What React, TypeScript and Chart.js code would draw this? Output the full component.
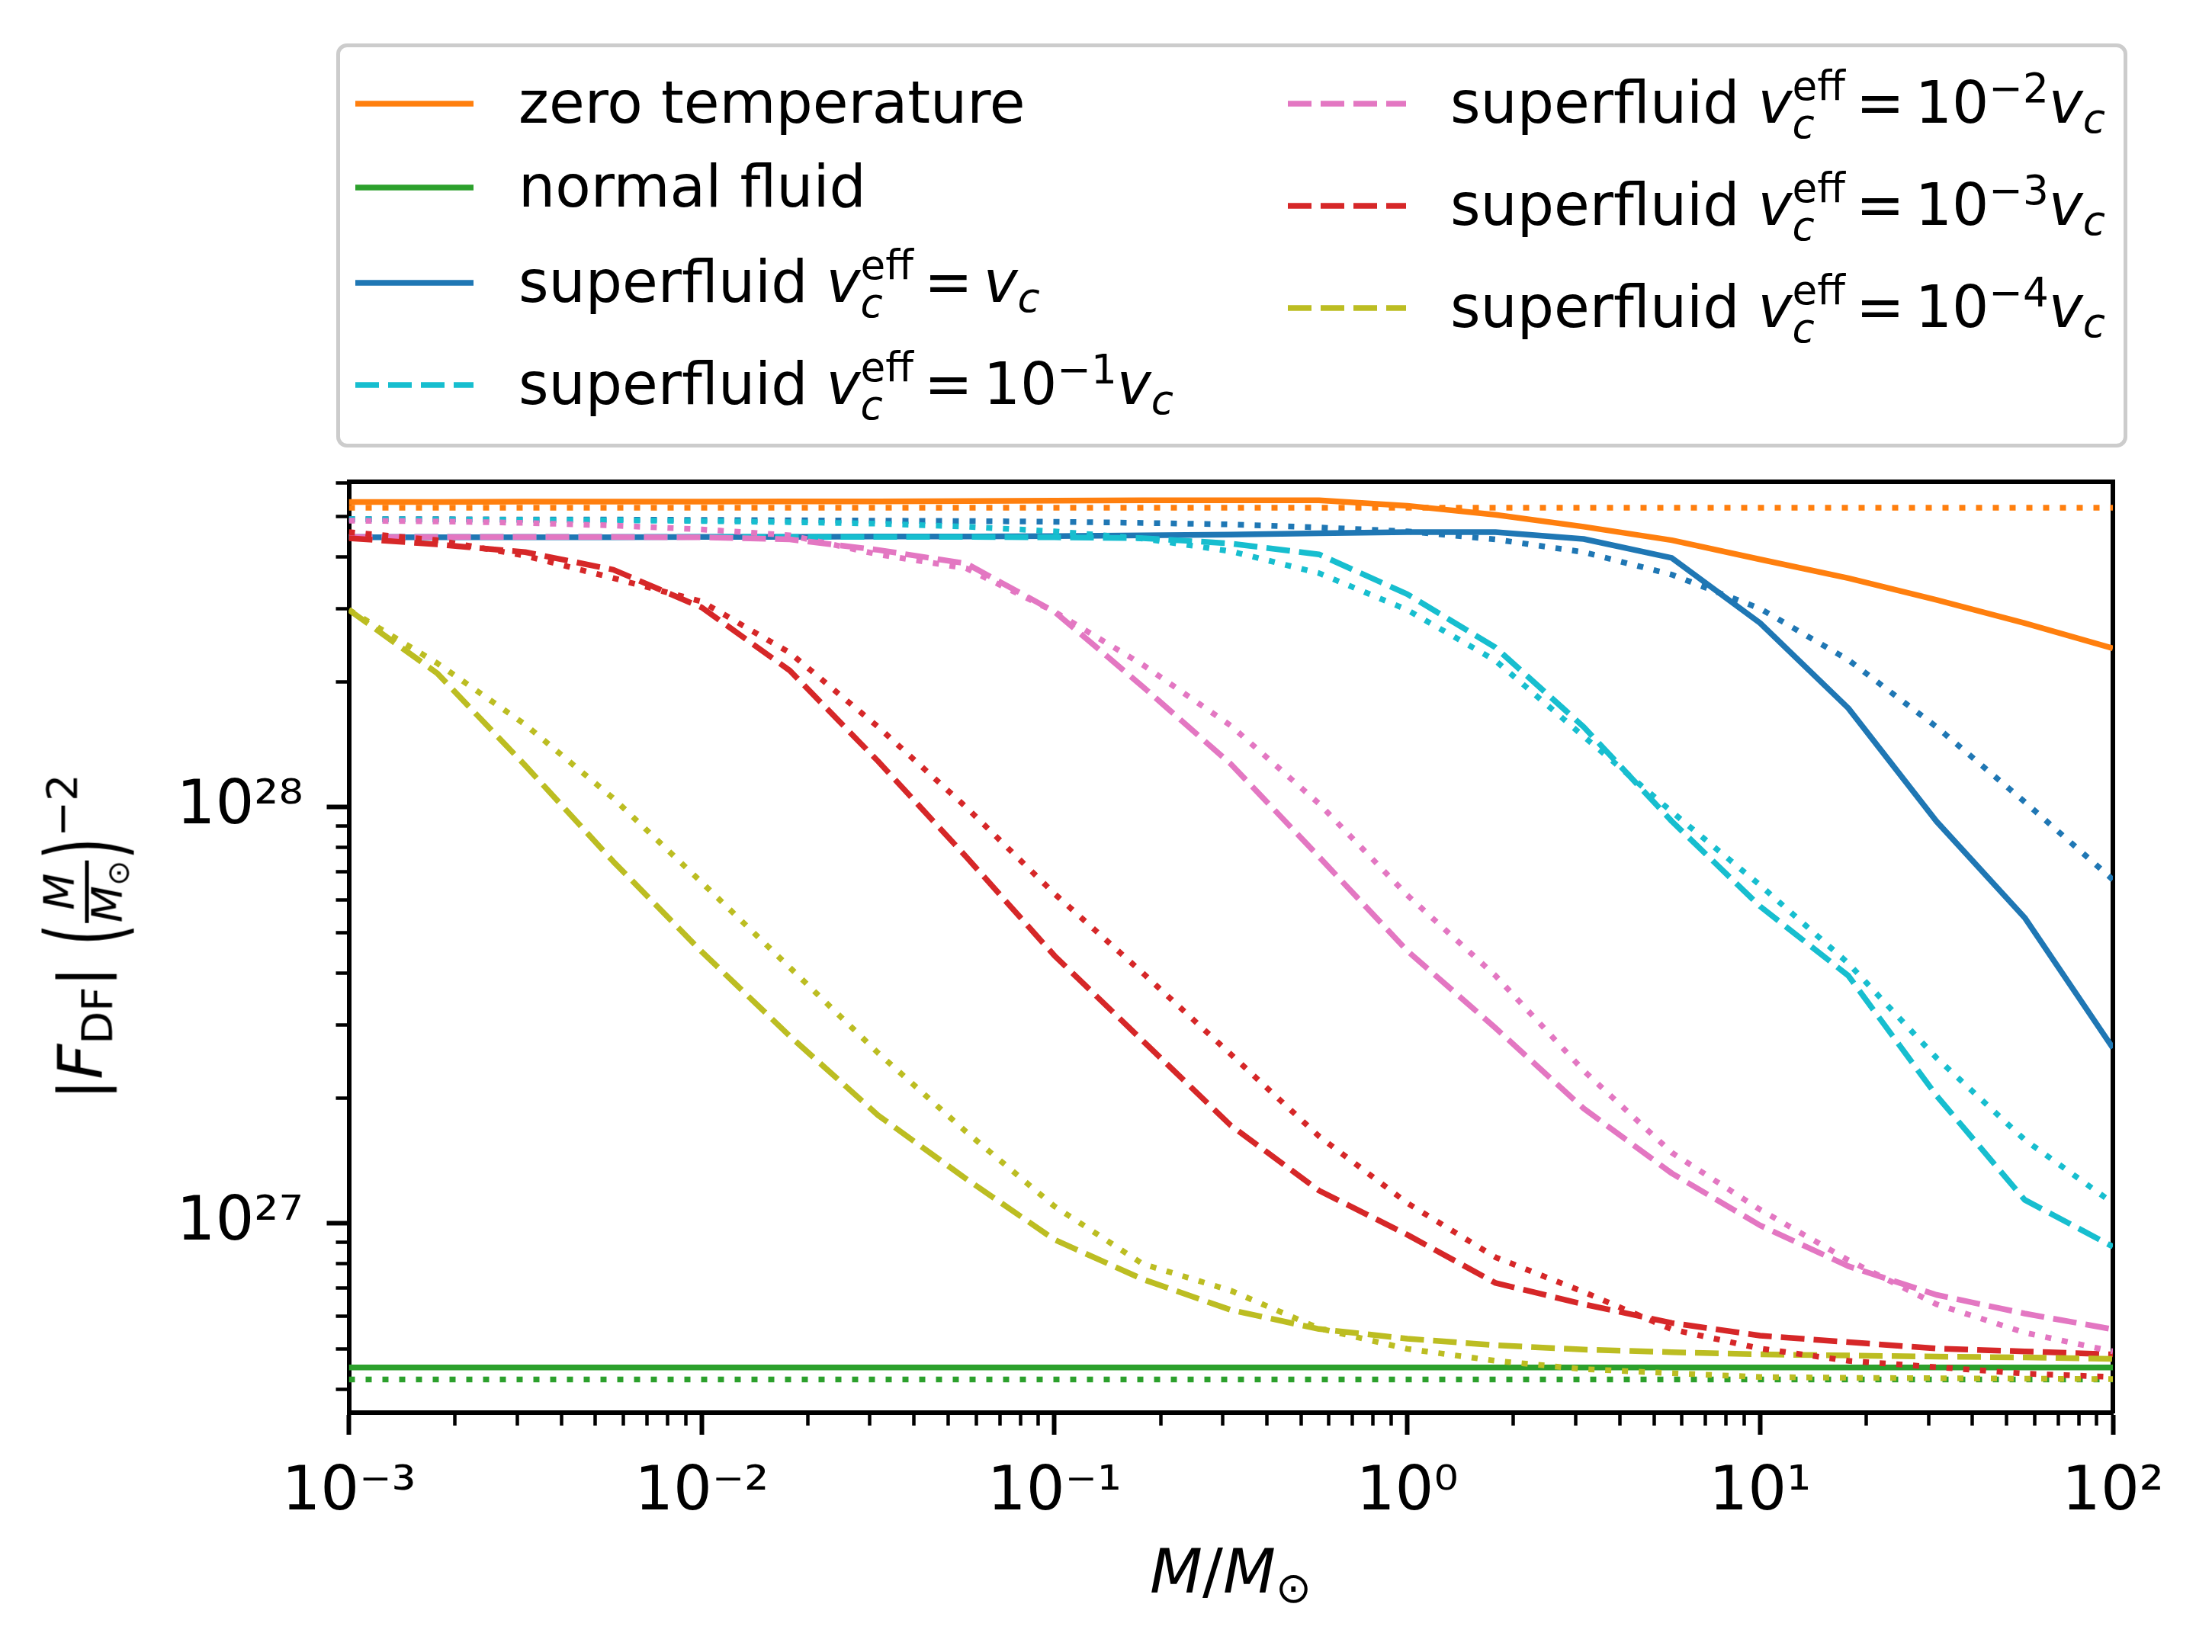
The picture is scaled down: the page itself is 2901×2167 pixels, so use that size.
import { useEffect, useRef } from "react"
import Chart from "chart.js/auto"

// M / M_sun, every quarter decade
const masses = [
    0.001, 0.001778, 0.003162, 0.005623, 0.01, 0.01778, 0.03162, 0.05623, 0.1, 0.1778, 0.3162,
    0.5623, 1, 1.778, 3.162, 5.623, 10, 17.78, 31.62, 56.23, 100,
]

// |F_DF| (M/M_sun)^-2
const zeroTemp = [
    5.41e28, 5.41e28, 5.42e28, 5.42e28, 5.42e28, 5.43e28, 5.43e28, 5.44e28, 5.45e28, 5.46e28, 5.46e28,
    5.46e28, 5.3e28, 5.04e28, 4.72e28, 4.38e28, 3.94e28, 3.55e28, 3.15e28, 2.77e28, 2.41e28,
]
const normalFluid = [
    4.51e26, 4.51e26, 4.51e26, 4.51e26, 4.51e26, 4.51e26, 4.51e26, 4.51e26, 4.51e26, 4.51e26, 4.51e26,
    4.51e26, 4.51e26, 4.51e26, 4.51e26, 4.51e26, 4.51e26, 4.51e26, 4.51e26, 4.51e26, 4.51e26,
]
const sfVc = [
    4.45e28, 4.45e28, 4.45e28, 4.45e28, 4.46e28, 4.46e28, 4.47e28, 4.47e28, 4.48e28, 4.5e28, 4.52e28,
    4.55e28, 4.58e28, 4.58e28, 4.41e28, 3.97e28, 2.77e28, 1.73e28, 9.25e27, 5.43e27, 2.64e27,
]
const sfVc1 = [
    4.46e28, 4.46e28, 4.46e28, 4.46e28, 4.46e28, 4.46e28, 4.46e28, 4.46e28, 4.45e28, 4.43e28, 4.3e28,
    4.05e28, 3.25e28, 2.42e28, 1.56e28, 9.25e27, 5.78e27, 3.94e27, 2.03e27, 1.14e27, 8.8e26,
]
const sfVc2 = [
    4.46e28, 4.46e28, 4.46e28, 4.46e28, 4.45e28, 4.4e28, 4.15e28, 3.85e28, 2.95e28, 1.95e28, 1.27e28,
    7.6e27, 4.52e27, 2.95e27, 1.89e27, 1.32e27, 9.9e26, 7.9e26, 6.74e26, 6.08e26, 5.57e26,
]
const sfVc3 = [
    4.43e28, 4.28e28, 4.1e28, 3.72e28, 3.02e28, 2.13e28, 1.29e28, 7.6e27, 4.4e27, 2.75e27, 1.72e27,
    1.2e27, 9.4e26, 7.2e26, 6.4e26, 5.77e26, 5.38e26, 5.19e26, 5.01e26, 4.93e26, 4.85e26,
]
const sfVc4 = [
    2.98e28, 2.1e28, 1.26e28, 7.4e27, 4.5e27, 2.82e27, 1.82e27, 1.28e27, 9.15e26, 7.35e26, 6.2e26,
    5.58e26, 5.29e26, 5.1e26, 4.98e26, 4.91e26, 4.85e26, 4.82e26, 4.79e26, 4.77e26, 4.73e26,
]

// dotted companions (no legend entry)
const zeroTempDot = [
    5.24e28, 5.24e28, 5.24e28, 5.24e28, 5.24e28, 5.24e28, 5.24e28, 5.24e28, 5.24e28, 5.24e28, 5.24e28,
    5.24e28, 5.24e28, 5.24e28, 5.24e28, 5.24e28, 5.24e28, 5.24e28, 5.24e28, 5.24e28, 5.24e28,
]
const normalFluidDot = [
    4.22e26, 4.22e26, 4.22e26, 4.22e26, 4.22e26, 4.22e26, 4.22e26, 4.22e26, 4.22e26, 4.22e26, 4.22e26,
    4.22e26, 4.22e26, 4.22e26, 4.22e26, 4.22e26, 4.22e26, 4.22e26, 4.22e26, 4.22e26, 4.22e26,
]
const sfVcDot = [
    4.92e28, 4.92e28, 4.91e28, 4.91e28, 4.9e28, 4.89e28, 4.88e28, 4.87e28, 4.85e28, 4.82e28, 4.78e28,
    4.7e28, 4.6e28, 4.4e28, 4.1e28, 3.62e28, 3.0e28, 2.26e28, 1.56e28, 1.03e28, 6.7e27,
]
const sfVc1Dot = [
    4.92e28, 4.91e28, 4.9e28, 4.89e28, 4.87e28, 4.84e28, 4.8e28, 4.72e28, 4.6e28, 4.42e28, 4.12e28,
    3.65e28, 2.98e28, 2.25e28, 1.48e28, 9.75e27, 6.5e27, 4.22e27, 2.5e27, 1.59e27, 1.12e27,
]
const sfVc2Dot = [
    4.88e28, 4.86e28, 4.82e28, 4.75e28, 4.65e28, 4.5e28, 4.05e28, 3.75e28, 2.95e28, 2.2e28, 1.57e28,
    1.02e28, 6.15e27, 3.94e27, 2.33e27, 1.48e27, 1.08e27, 8.17e26, 6.4e26, 5.47e26, 4.93e26,
]
const sfVc3Dot = [
    4.58e28, 4.38e28, 4.02e28, 3.55e28, 3.12e28, 2.35e28, 1.56e28, 1.0e28, 6.2e27, 4.0e27, 2.55e27,
    1.62e27, 1.12e27, 8.3e26, 6.85e26, 5.57e26, 5.01e26, 4.68e26, 4.52e26, 4.36e26, 4.28e26,
]
const sfVc4Dot = [
    2.98e28, 2.22e28, 1.58e28, 1.05e28, 6.6e27, 4.12e27, 2.57e27, 1.66e27, 1.1e27, 8.0e26, 6.9e26,
    5.6e26, 5.0e26, 4.68e26, 4.47e26, 4.37e26, 4.28e26, 4.26e26, 4.25e26, 4.24e26, 4.23e26,
]

const xMajorTicks = [1e-3, 1e-2, 1e-1, 1, 10, 100]
const xTickLabels = ["10⁻³", "10⁻²", "10⁻¹", "10⁰", "10¹", "10²"]
const yMajorTicks = [1e27, 1e28]
const yTickLabels = ["10²⁷", "10²⁸"]
const minorSteps = [2, 3, 4, 5, 6, 7, 8, 9]
const xDecades = [1e-3, 1e-2, 1e-1, 1, 10]
const yDecades = [1e26, 1e27, 1e28]

const X_MIN = 1e-3
const X_MAX = 1e2
const Y_MIN = 3.514e26
const Y_MAX = 6.05e28

const FONT = '"DejaVu Sans", sans-serif'
const SOLID: number[] = []
const DASHED = [31, 12]
const DOTTED = [8, 14]

const lines = [
    { data: zeroTemp, color: "#ff7f0e", dash: SOLID },
    { data: normalFluid, color: "#2ca02c", dash: SOLID },
    { data: sfVc, color: "#1f77b4", dash: SOLID },
    { data: sfVc1, color: "#17becf", dash: DASHED },
    { data: sfVc2, color: "#e377c2", dash: DASHED },
    { data: sfVc3, color: "#d62728", dash: DASHED },
    { data: sfVc4, color: "#bcbd22", dash: DASHED },
    { data: zeroTempDot, color: "#ff7f0e", dash: DOTTED },
    { data: normalFluidDot, color: "#2ca02c", dash: DOTTED },
    { data: sfVcDot, color: "#1f77b4", dash: DOTTED },
    { data: sfVc1Dot, color: "#17becf", dash: DOTTED },
    { data: sfVc2Dot, color: "#e377c2", dash: DOTTED },
    { data: sfVc3Dot, color: "#d62728", dash: DOTTED },
    { data: sfVc4Dot, color: "#bcbd22", dash: DOTTED },
]

// legend: label text, or the exponent of 10 in v_c^eff = 10^k v_c
const legendEntries = [
    { col: 0, y: 136, color: "#ff7f0e", dash: SOLID, text: "zero temperature", exp: null },
    { col: 0, y: 246, color: "#2ca02c", dash: SOLID, text: "normal fluid", exp: null },
    { col: 0, y: 371, color: "#1f77b4", dash: SOLID, text: "superfluid", exp: "" },
    { col: 0, y: 505, color: "#17becf", dash: DASHED, text: "superfluid", exp: "−1" },
    { col: 1, y: 136, color: "#e377c2", dash: DASHED, text: "superfluid", exp: "−2" },
    { col: 1, y: 270, color: "#d62728", dash: DASHED, text: "superfluid", exp: "−3" },
    { col: 1, y: 404, color: "#bcbd22", dash: DASHED, text: "superfluid", exp: "−4" },
]

function fixed(size: { width?: number; height?: number }) {
    return (s: any) => {
        if (size.width !== undefined) s.width = size.width
        if (size.height !== undefined) s.height = size.height
        s.paddingLeft = 0
        s.paddingRight = 0
        s.paddingTop = 0
        s.paddingBottom = 0
    }
}

function Vc({ eff }: { eff: boolean }) {
    return (
        <span>
            <i>v</i>
            <span style={{ display: "inline-block", position: "relative", fontSize: "0.7em", lineHeight: 1 }}>
                {eff ? <span style={{ position: "relative", top: "-0.55em" }}>eff</span> : <span>&nbsp;</span>}
                <i style={{ position: "absolute", left: 0, top: eff ? "0.38em" : "0.25em" }}>c</i>
            </span>
        </span>
    )
}

function LegendText({ text, exp }: { text: string; exp: string | null }) {
    if (exp === null) return <span>{text}</span>
    return (
        <span>
            {text} <Vc eff={true} />
            <span style={{ margin: "0 14px" }}>=</span>
            {exp !== "" && (
                <span>
                    10<span style={{ fontSize: "0.7em", position: "relative", top: "-0.5em" }}>{exp}</span>
                </span>
            )}
            <Vc eff={false} />
        </span>
    )
}

function Handle({ color, dash }: { color: string; dash: number[] }) {
    return (
        <svg width={155} height={20} style={{ display: "block" }}>
            <line
                x1={0}
                y1={10}
                x2={155}
                y2={10}
                stroke={color}
                strokeWidth={7.5}
                strokeDasharray={dash.length ? dash.join(" ") : undefined}
            />
        </svg>
    )
}

function Legend() {
    return (
        <>
            <div
                style={{
                    position: "absolute",
                    left: 441,
                    top: 57,
                    width: 2349,
                    height: 530,
                    boxSizing: "border-box",
                    border: "5px solid #cccccc",
                    borderRadius: 14,
                    background: "#fff",
                }}
            />
            {legendEntries.map((e, i) => {
                const hx = e.col === 0 ? 466 : 1689
                const tx = e.col === 0 ? 680 : 1902
                const baseline = e.y + 25
                return (
                    <div key={i}>
                        <div style={{ position: "absolute", left: hx, top: e.y - 10 }}>
                            <Handle color={e.color} dash={e.dash} />
                        </div>
                        <div
                            style={{
                                position: "absolute",
                                left: tx,
                                top: baseline - 64.3,
                                fontSize: 76,
                                lineHeight: "76px",
                                whiteSpace: "nowrap",
                            }}
                        >
                            <LegendText text={e.text} exp={e.exp} />
                        </div>
                    </div>
                )
            })}
        </>
    )
}

function XLabel() {
    return (
        <div
            style={{
                position: "absolute",
                left: 1614,
                top: 2090 - 67.7,
                transform: "translateX(-50%)",
                fontSize: 80,
                lineHeight: "80px",
                whiteSpace: "nowrap",
            }}
        >
            <i>M</i>/<i>M</i>
            <span style={{ fontSize: "0.7em", position: "relative", top: "0.23em" }}>⊙</span>
        </div>
    )
}

function YLabel() {
    const paren = {
        display: "inline-block",
        transform: "translateY(5px) scale(0.9, 1.7)",
    }
    return (
        <div style={{ position: "absolute", left: 112, top: 1229, width: 0, height: 0 }}>
            <div
                style={{
                    position: "absolute",
                    left: 0,
                    top: 0,
                    transform: "translate(-50%, -50%) rotate(-90deg)",
                    fontSize: 80,
                    lineHeight: "80px",
                    whiteSpace: "nowrap",
                }}
            >
                |<i>F</i>
                <span style={{ fontSize: "0.7em", position: "relative", top: "0.23em" }}>DF</span>|
                <span style={{ ...paren, marginLeft: 26 }}>(</span>
                <span
                    style={{
                        display: "inline-block",
                        verticalAlign: "middle",
                        fontSize: 56,
                        lineHeight: "56px",
                        textAlign: "center",
                    }}
                >
                    <span style={{ display: "block", paddingBottom: 6 }}>
                        <i>M</i>
                    </span>
                    <span style={{ display: "block", height: 5, background: "#000" }} />
                    <span style={{ display: "block", marginTop: -4 }}>
                        <i>M</i>
                        <span style={{ fontSize: "0.7em", position: "relative", top: "0.23em" }}>⊙</span>
                    </span>
                </span>
                <span style={paren}>)</span>
                <span style={{ fontSize: "0.7em", position: "relative", top: "-0.59em" }}>−2</span>
            </div>
        </div>
    )
}

function DragChart() {
    const chartRef = useRef<HTMLCanvasElement>(null)
    const chartInstance = useRef<Chart | null>(null)

    useEffect(() => {
        if (!chartRef.current) return
        if (chartInstance.current) chartInstance.current.destroy()

        const xMinor = xDecades.flatMap((d) => minorSteps.map((m) => m * d))
        const yMinor = yDecades
            .flatMap((d) => minorSteps.map((m) => m * d))
            .filter((v) => v >= Y_MIN && v <= Y_MAX)

        const tickFont = { family: FONT, size: 80 }
        const majorGrid = {
            display: true,
            drawOnChartArea: false,
            drawTicks: true,
            tickLength: 29,
            tickWidth: 6,
            tickColor: "#000",
        }
        const minorGrid = { ...majorGrid, tickLength: 17, tickWidth: 4.5 }
        const spine = { display: true, color: "#000", width: 6 }

        chartInstance.current = new Chart(chartRef.current, {
            type: "line",
            data: {
                datasets: lines.map((l, i) => ({
                    data: masses.map((m, j) => ({ x: m, y: l.data[j] })),
                    borderColor: l.color,
                    backgroundColor: l.color,
                    borderWidth: 7.5,
                    borderDash: l.dash,
                    borderCapStyle: "butt",
                    borderJoinStyle: "round",
                    pointRadius: 0,
                    tension: 0,
                    fill: false,
                    order: -i,
                })),
            },
            options: {
                animation: false,
                responsive: true,
                maintainAspectRatio: false,
                events: [],
                layout: { padding: { left: 100, top: 632, right: 130, bottom: 114 } },
                plugins: { legend: { display: false }, tooltip: { enabled: false } },
                scales: {
                    x: {
                        type: "logarithmic",
                        position: "bottom",
                        weight: 1,
                        min: X_MIN,
                        max: X_MAX,
                        afterBuildTicks: (s: any) => {
                            s.ticks = xMajorTicks.map((v) => ({ value: v }))
                        },
                        afterFit: fixed({ height: 200 }),
                        grid: majorGrid,
                        border: spine,
                        ticks: {
                            autoSkip: false,
                            maxRotation: 0,
                            minRotation: 0,
                            padding: 29,
                            color: "#000",
                            font: tickFont,
                            callback: (v: any) => xTickLabels[xMajorTicks.indexOf(Number(v))] ?? "",
                        },
                    },
                    xMinor: {
                        type: "logarithmic",
                        position: "bottom",
                        weight: 0,
                        min: X_MIN,
                        max: X_MAX,
                        afterBuildTicks: (s: any) => {
                            s.ticks = xMinor.map((v) => ({ value: v }))
                        },
                        afterFit: fixed({ height: 0 }),
                        grid: minorGrid,
                        border: { display: false },
                        ticks: { display: false, autoSkip: false },
                    },
                    y: {
                        type: "logarithmic",
                        position: "left",
                        weight: 1,
                        min: Y_MIN,
                        max: Y_MAX,
                        afterBuildTicks: (s: any) => {
                            s.ticks = yMajorTicks.map((v) => ({ value: v }))
                        },
                        afterFit: fixed({ width: 357.5 }),
                        grid: majorGrid,
                        border: spine,
                        ticks: {
                            autoSkip: false,
                            padding: 31,
                            color: "#000",
                            font: tickFont,
                            callback: (v: any) => yTickLabels[yMajorTicks.indexOf(Number(v))] ?? "",
                        },
                    },
                    yMinor: {
                        type: "logarithmic",
                        position: "left",
                        weight: 0,
                        min: Y_MIN,
                        max: Y_MAX,
                        afterBuildTicks: (s: any) => {
                            s.ticks = yMinor.map((v) => ({ value: v }))
                        },
                        afterFit: fixed({ width: 0 }),
                        grid: minorGrid,
                        border: { display: false },
                        ticks: { display: false, autoSkip: false },
                    },
                    xTop: {
                        type: "linear",
                        position: "top",
                        min: 0,
                        max: 1,
                        afterFit: fixed({ height: 0 }),
                        grid: { display: false },
                        border: spine,
                        ticks: { display: false },
                    },
                    yRight: {
                        type: "linear",
                        position: "right",
                        min: 0,
                        max: 1,
                        afterFit: fixed({ width: 0 }),
                        grid: { display: false },
                        border: spine,
                        ticks: { display: false },
                    },
                },
            } as any,
        })

        return () => {
            chartInstance.current?.destroy()
        }
    }, [])

    return (
        <div
            style={{
                position: "absolute",
                left: 0,
                top: 0,
                width: 2901,
                height: 2167,
                background: "#fff",
                fontFamily: FONT,
                color: "#000",
                overflow: "hidden",
            }}
        >
            <div style={{ position: "absolute", left: 0, top: 0, width: 2901, height: 2167 }}>
                <canvas ref={chartRef}></canvas>
            </div>
            <Legend />
            <XLabel />
            <YLabel />
        </div>
    )
}

export default function App() {
    return <DragChart />
}
